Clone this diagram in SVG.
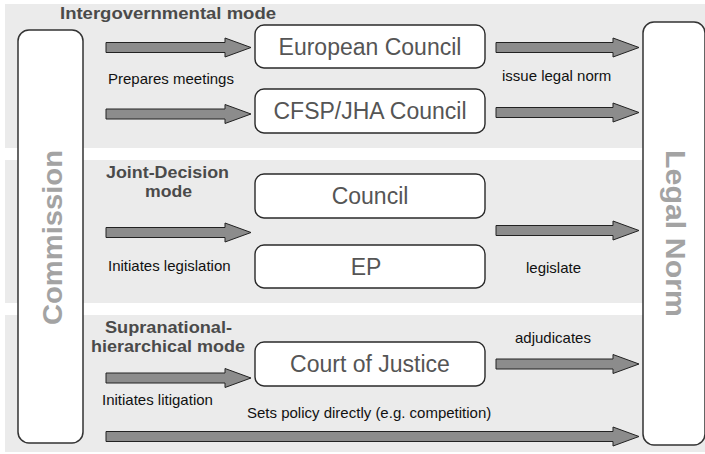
<svg xmlns="http://www.w3.org/2000/svg" width="705" height="454" viewBox="0 0 705 454">
  <style>
    .band { fill: #ebebeb; }
    .actor { fill: #ffffff; stroke: #333333; stroke-width: 1.5; }
    .actor-label { font-family: "Liberation Sans", Arial, sans-serif; font-weight: bold; font-size: 28px; fill: #a3a3a3; text-anchor: middle; }
    .box { fill: #ffffff; stroke: #2a2a2a; stroke-width: 1.4; }
    .box-label { font-family: "Liberation Sans", Arial, sans-serif; font-size: 23px; fill: #555555; text-anchor: middle; }
    .mode { font-family: "Liberation Sans", Arial, sans-serif; font-weight: bold; font-size: 16px; fill: #4a4a4a; text-anchor: middle; }
    .label { font-family: "Liberation Sans", Arial, sans-serif; font-size: 15px; fill: #111111; }
    .arrow { fill: #8c8c8c; stroke: #222222; stroke-width: 1; stroke-linejoin: miter; }
  </style>

  <!-- mode bands -->
  <g id="bands">
    <rect class="band" x="5" y="4" width="700" height="144"/>
    <rect class="band" x="5" y="160" width="700" height="143"/>
    <rect class="band" x="5" y="315" width="700" height="137"/>
  </g>

  <!-- mode titles -->
  <g id="mode-titles">
    <text class="mode" x="168" y="19" textLength="216" lengthAdjust="spacingAndGlyphs">Intergovernmental mode</text>
    <text class="mode" x="167.5" y="178" textLength="123" lengthAdjust="spacingAndGlyphs">Joint-Decision</text>
    <text class="mode" x="168.5" y="197" textLength="47" lengthAdjust="spacingAndGlyphs">mode</text>
    <text class="mode" x="168.5" y="333" textLength="127" lengthAdjust="spacingAndGlyphs">Supranational-</text>
    <text class="mode" x="168" y="352" textLength="154" lengthAdjust="spacingAndGlyphs">hierarchical mode</text>
  </g>

  <!-- actors -->
  <g id="commission">
    <rect class="actor" x="18" y="30" width="65" height="413" rx="11"/>
    <text class="actor-label" transform="translate(62 237.5) rotate(-90)" textLength="175" lengthAdjust="spacingAndGlyphs">Commission</text>
  </g>
  <g id="legal-norm">
    <rect class="actor" x="643" y="22" width="62" height="423" rx="11"/>
    <text class="actor-label" transform="translate(666 233.5) rotate(90)" textLength="167" lengthAdjust="spacingAndGlyphs">Legal Norm</text>
  </g>

  <!-- institutions -->
  <g id="european-council">
    <rect class="box" x="255" y="25" width="230" height="43" rx="9"/>
    <text class="box-label" x="370" y="54.5">European Council</text>
  </g>
  <g id="cfsp-jha-council">
    <rect class="box" x="255" y="89" width="230" height="44" rx="9"/>
    <text class="box-label" x="370" y="119">CFSP/JHA Council</text>
  </g>
  <g id="council">
    <rect class="box" x="255" y="174" width="230" height="44" rx="9"/>
    <text class="box-label" x="370" y="204">Council</text>
  </g>
  <g id="ep">
    <rect class="box" x="255" y="245" width="230" height="43" rx="9"/>
    <text class="box-label" x="366" y="274.5">EP</text>
  </g>
  <g id="court-of-justice">
    <rect class="box" x="255" y="342" width="230" height="44" rx="9"/>
    <text class="box-label" x="370" y="372">Court of Justice</text>
  </g>

  <!-- connectors: block arrows -->
  <g id="connectors">
    <path class="arrow" d="M106 42.5 H225 V38 L251 47.5 L225 57 V52.5 H106 Z"/>
    <path class="arrow" d="M106 109 H225 V104.5 L251 114 L225 123.5 V119 H106 Z"/>
    <path class="arrow" d="M496 42.5 H613 V38 L639 47.5 L613 57 V52.5 H496 Z"/>
    <path class="arrow" d="M496 107.5 H613 V103 L639 112.5 L613 122 V117.5 H496 Z"/>
    <path class="arrow" d="M106 227.5 H225 V223 L251 232.5 L225 242 V237.5 H106 Z"/>
    <path class="arrow" d="M496 225.5 H613 V221 L639 230.5 L613 240 V235.5 H496 Z"/>
    <path class="arrow" d="M106 373 H225 V368.5 L251 378 L225 387.5 V383 H106 Z"/>
    <path class="arrow" d="M496 359 H613 V354.5 L639 364 L613 373.5 V369 H496 Z"/>
    <path class="arrow" d="M106 431.5 H613 V427 L639 436.5 L613 446 V441.5 H106 Z"/>
  </g>

  <!-- connector labels -->
  <g id="connector-labels">
    <text class="label" x="108" y="84">Prepares meetings</text>
    <text class="label" x="502" y="81">issue legal norm</text>
    <text class="label" x="108" y="271">Initiates legislation</text>
    <text class="label" x="526" y="273">legislate</text>
    <text class="label" x="515" y="343">adjudicates</text>
    <text class="label" x="102" y="405">Initiates litigation</text>
    <text class="label" x="247" y="418">Sets policy directly (e.g. competition)</text>
  </g>
</svg>
